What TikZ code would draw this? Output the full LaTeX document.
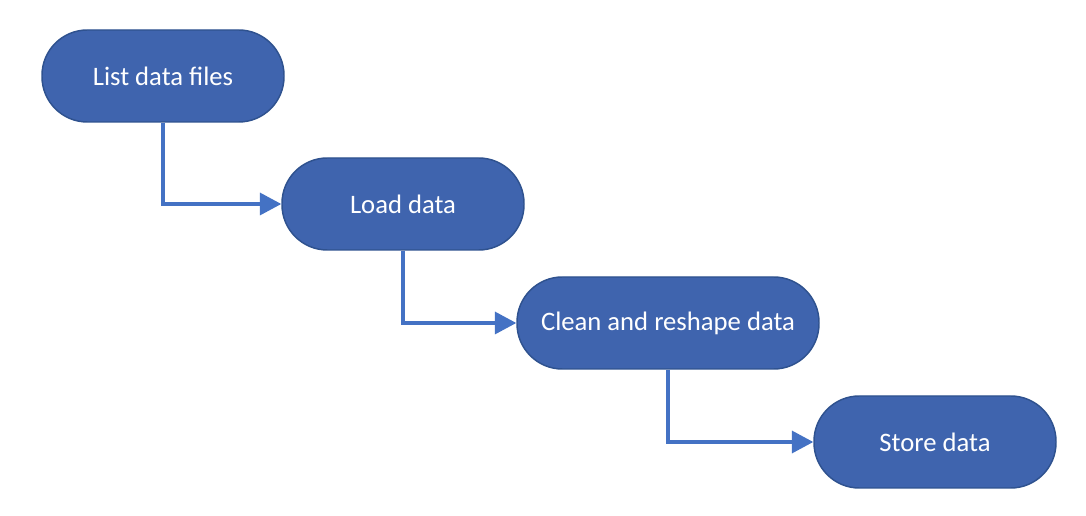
\documentclass[tikz,border=0pt]{standalone}
\usepackage{fontspec}
\setmainfont{Carlito}
\usetikzlibrary{arrows.meta}
\definecolor{boxfill}{HTML}{3F64AE}
\definecolor{boxedge}{HTML}{2F528F}
\definecolor{linkcol}{HTML}{4472C4}
\begin{document}
\begin{tikzpicture}[x=0.75pt,y=-0.75pt,
  stepbox/.style={draw=boxedge,fill=boxfill,line width=1.1pt,rounded corners=34pt,
    minimum height=69pt,minimum width=181.5pt,inner sep=0pt,text=white,
    font=\fontsize{20pt}{24pt}\selectfont},
  link/.style={draw=linkcol,line width=2.4pt,-{Triangle[length=16pt,width=16.5pt]}}]
\useasboundingbox[fill=white] (0,0) rectangle (1086,516);
\node[stepbox] (n1) at (163,76) {List data files};
\node[stepbox] (n2) at (403,204) {Load data};
\node[stepbox,minimum width=226.5pt] (n3) at (668,323) {Clean and reshape data};
\node[stepbox] (n4) at (935,442) {Store data};
\draw[link] (n1.south) |- (n2.west);
\draw[link] (n2.south) |- (n3.west);
\draw[link] (n3.south) |- (n4.west);
\end{tikzpicture}
\end{document}
